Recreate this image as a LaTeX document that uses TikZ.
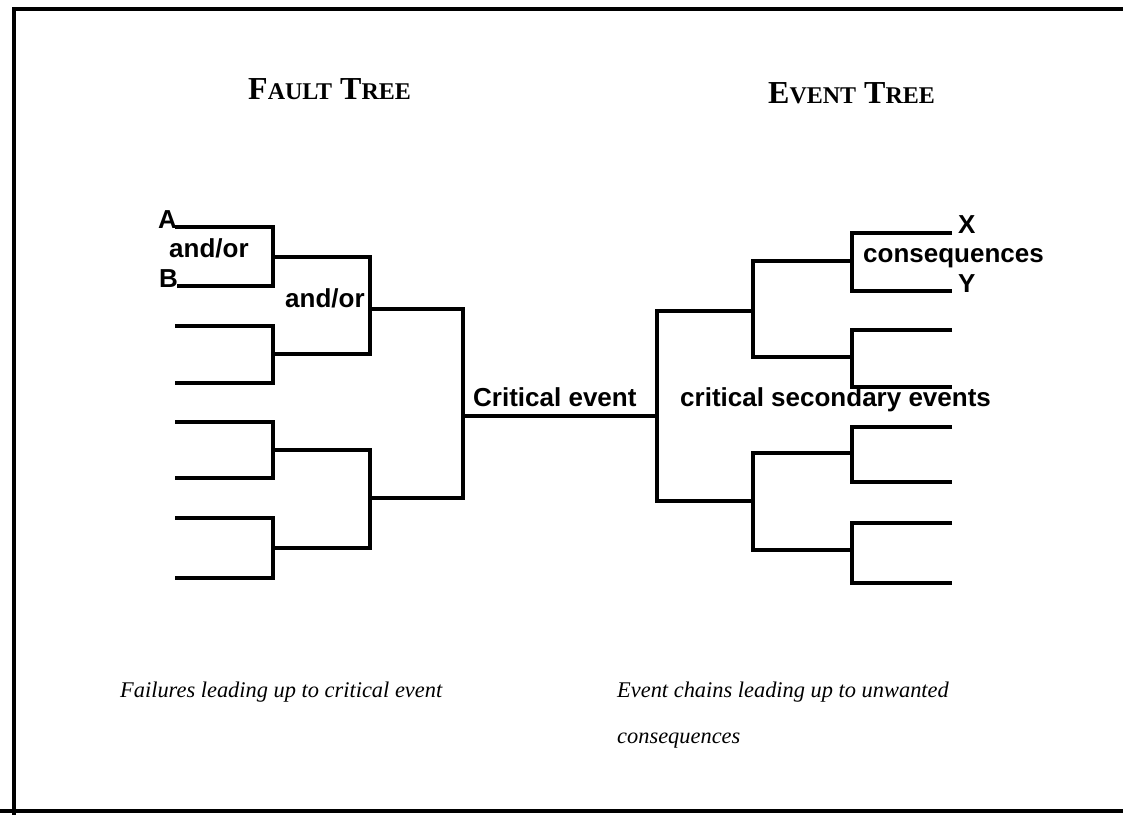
\documentclass[tikz,border=0pt]{standalone}
\usepackage{fontspec}
\setmainfont{Liberation Serif}
\newfontfamily\labelsans{Liberation Sans}
\newcommand\capword[2]{{\fontsize{32}{32}\selectfont #1}{\fontsize{24}{24}\selectfont #2}}
\tikzset{
  frame/.style={line width=4.5pt},
  branch/.style={line width=4pt, line join=miter},
  lbl/.style={font=\labelsans\bfseries\fontsize{26}{26}\selectfont, inner sep=0pt, anchor=base west},
  note/.style={font=\itshape\fontsize{22.4}{46}\selectfont, inner sep=0pt, anchor=base west, align=left},
  heading/.style={font=\bfseries\fontsize{32}{32}\selectfont, inner sep=0pt, anchor=base west},
}
\begin{document}
\begin{tikzpicture}[x=1pt,y=-1pt]
\useasboundingbox (0,0) rectangle (1123,815);

% outer frame (open on the right)
\coordinate (fTL) at (14,9);
\coordinate (fTR) at (1123,9);
\coordinate (fBL) at (14,815);
\coordinate (fB0) at (0,811);
\coordinate (fB1) at (1123,811);
\draw[frame] (fTR) -- (fTL) -- (fBL);
\draw[frame] (fB0) -- (fB1);

% headings
\node[heading] (ft) at (248,99) {\capword{F}{AULT} \capword{T}{REE}};
\node[heading] (et) at (768,103) {\capword{E}{VENT} \capword{T}{REE}};

% ---- fault tree: leaves (left ends)
\coordinate (L1) at (175,227);
\coordinate (L2) at (177,286);
\coordinate (L3) at (175,326);
\coordinate (L4) at (175,383);
\coordinate (L5) at (175,422);
\coordinate (L6) at (175,478);
\coordinate (L7) at (175,518);
\coordinate (L8) at (175,578);
% gates
\coordinate (P1) at (273,257);
\coordinate (P2) at (273,354);
\coordinate (P3) at (273,450);
\coordinate (P4) at (273,548);
\coordinate (Q1) at (370,309);
\coordinate (Q2) at (370,498);
\coordinate (R)  at (463,416);
% critical event
\coordinate (S)  at (657,416);

\draw[branch] (L1) -| (P1) |- (L2);
\draw[branch] (L3) -| (P2) |- (L4);
\draw[branch] (L5) -| (P3) |- (L6);
\draw[branch] (L7) -| (P4) |- (L8);
\draw[branch] (P1) -| (Q1) |- (P2);
\draw[branch] (P3) -| (Q2) |- (P4);
\draw[branch] (Q1) -| (R) |- (Q2);
\draw[branch] (R) -- (S);

% ---- event tree
\coordinate (U1) at (753,311);
\coordinate (U2) at (753,501);
\coordinate (V1) at (852,261);
\coordinate (V2) at (852,357);
\coordinate (V3) at (852,453);
\coordinate (V4) at (852,550);
\coordinate (E1) at (952,233);
\coordinate (E2) at (952,291);
\coordinate (E3) at (952,330);
\coordinate (E4) at (952,387);
\coordinate (E5) at (952,427);
\coordinate (E6) at (952,482);
\coordinate (E7) at (952,523);
\coordinate (E8) at (952,583);

\draw[branch] (U1) -| (S) |- (U2);
\draw[branch] (V1) -| (U1) |- (V2);
\draw[branch] (V3) -| (U2) |- (V4);
\draw[branch] (E1) -| (V1) |- (E2);
\draw[branch] (E3) -| (V2) |- (E4);
\draw[branch] (E5) -| (V3) |- (E6);
\draw[branch] (E7) -| (V4) |- (E8);

% labels
\node[lbl] (la) at (158,228) {A};
\node[lbl] (lb) at (159,287) {B};
\node[lbl] (g1) at (169,257) {and/or};
\node[lbl] (g2) at (285,307) {and/or};
\node[lbl] (ce) at (473,406) {Critical event};
\node[lbl] (cs) at (680,406) {critical secondary events};
\node[lbl] (cq) at (863,262) {consequences};
\node[lbl] (lx) at (958,233) {X};
\node[lbl] (ly) at (958,292) {Y};

% captions
\node[note] (n1) at (120,697) {Failures leading up to critical event};
\node[note] (n2) at (617,743) {Event chains leading up to unwanted\\consequences};
\end{tikzpicture}
\end{document}
